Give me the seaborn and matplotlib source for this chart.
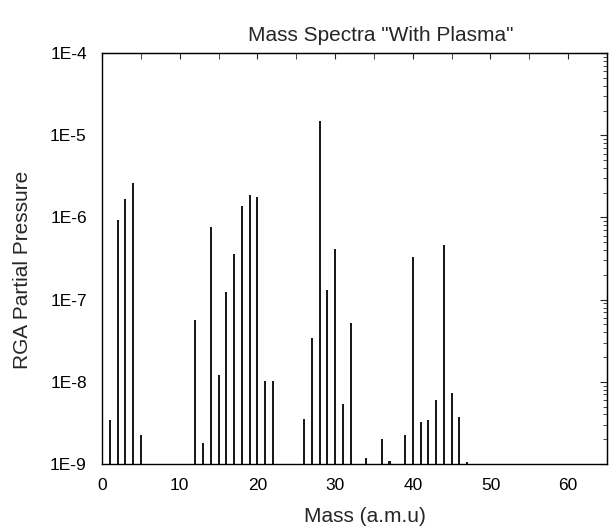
import numpy as np
import pandas as pd
import matplotlib
matplotlib.use("Agg")
import matplotlib.pyplot as plt
import matplotlib.ticker as mticker
import seaborn as sns

# peak masses (a.m.u) and RGA partial pressures
mass = [1, 2, 3, 4, 5,
        12, 13, 14, 15, 16, 17, 18, 19, 20, 21, 22,
        26, 27, 28, 29, 30, 31, 32,
        34, 36, 37, 39, 40, 41, 42, 43, 44, 45, 46, 47]
pressure = [3.4e-9, 9.3e-7, 1.67e-6, 2.65e-6, 2.27e-9,
            5.7e-8, 1.8e-9, 7.7e-7, 1.21e-8, 1.24e-7, 3.57e-7, 1.39e-6, 1.88e-6, 1.76e-6, 1.01e-8, 1.01e-8,
            3.5e-9, 3.45e-8, 1.5e-5, 1.32e-7, 4.14e-7, 5.4e-9, 5.25e-8,
            1.17e-9, 2.0e-9, 1.09e-9, 2.27e-9, 3.28e-7, 3.25e-9, 3.4e-9, 5.96e-9, 4.6e-7, 7.4e-9, 3.73e-9, 1.06e-9]

df = pd.DataFrame({"Mass": mass, "Pressure": pressure})

sns.set_style("white")
plt.rcParams["font.family"] = ["Liberation Sans", "DejaVu Sans"]

fig = plt.figure(figsize=(6.15, 5.26), dpi=100)
ax = fig.add_axes([0.166, 0.118, 0.821, 0.781])
ax.set_yscale("log")

sns.barplot(data=df, x="Mass", y="Pressure", native_scale=True, width=0.27,
            color="#1a1a1a", saturation=1, edgecolor="none", errorbar=None, ax=ax)

ax.set_xlim(0, 65)
ax.set_ylim(1e-9, 1e-4)

ax.xaxis.set_major_locator(mticker.MultipleLocator(10))
ax.xaxis.set_minor_locator(mticker.MultipleLocator(5))
ax.yaxis.set_major_locator(mticker.LogLocator(base=10, numticks=10))
ax.yaxis.set_minor_locator(mticker.LogLocator(base=10, subs=np.arange(2, 10), numticks=20))
ax.yaxis.set_major_formatter(mticker.FuncFormatter(lambda v, p: f"1E{int(round(np.log10(v)))}"))
ax.yaxis.set_minor_formatter(mticker.NullFormatter())

ax.tick_params(axis="both", which="major", direction="out", length=5, width=1, labelsize=12.5, colors="black")
ax.tick_params(axis="y", which="major", pad=6)
ax.tick_params(axis="x", which="major", pad=5)
ax.tick_params(axis="both", which="minor", direction="out", length=3, width=1)
for s in ax.spines.values():
    s.set_color("black")
    s.set_linewidth(1)

# inward ticks along the top and right frame
top = ax.secondary_xaxis("top")
top.xaxis.set_major_locator(mticker.MultipleLocator(10))
top.xaxis.set_minor_locator(mticker.MultipleLocator(5))
top.tick_params(which="both", direction="in", labeltop=False, length=4)
right = ax.secondary_yaxis("right")
right.yaxis.set_major_locator(mticker.LogLocator(base=10, numticks=10))
right.yaxis.set_minor_locator(mticker.LogLocator(base=10, subs=np.arange(2, 10), numticks=20))
right.yaxis.set_major_formatter(mticker.NullFormatter())
right.yaxis.set_minor_formatter(mticker.NullFormatter())
right.tick_params(which="major", direction="in", length=5)
right.tick_params(which="minor", direction="in", length=3)

ax.set_xlabel("Mass (a.m.u)", fontsize=15)
ax.xaxis.set_label_coords(0.521, -0.105)
ax.set_ylabel("RGA Partial Pressure", fontsize=15)
ax.yaxis.set_label_coords(-0.139, 0.472)
ax.set_title('Mass Spectra "With Plasma"', fontsize=15, x=0.552, pad=9)

fig.savefig("out.png", dpi=100)
